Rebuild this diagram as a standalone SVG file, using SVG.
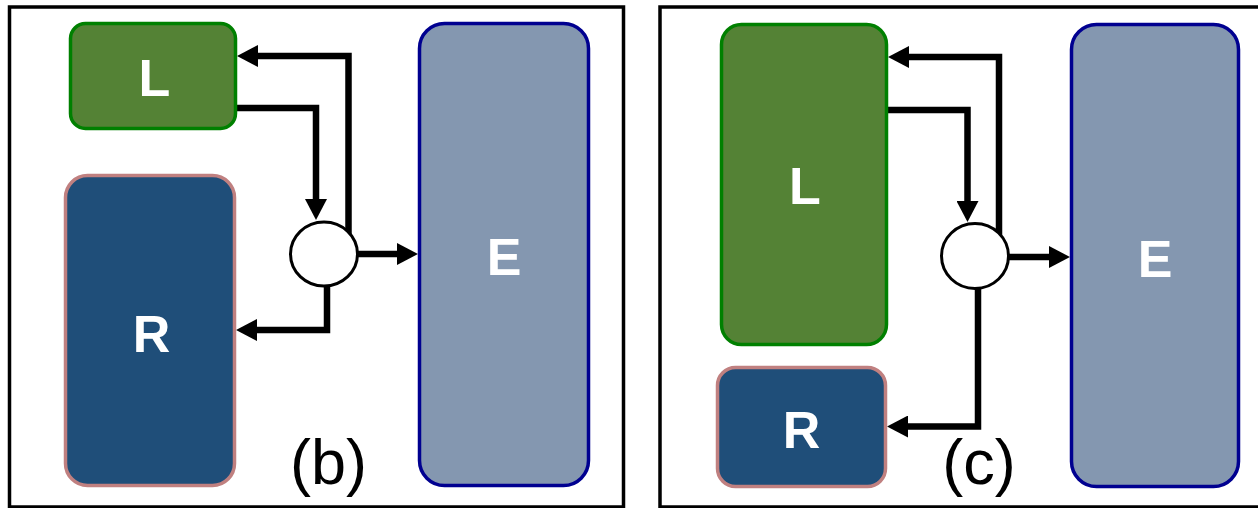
<svg xmlns="http://www.w3.org/2000/svg" width="1258" height="508" viewBox="0 0 1258 508">
<style>
.frame{fill:none;stroke:#000;stroke-width:3.5}
.L{fill:#548235;stroke:#008000;stroke-width:3.5}
.R{fill:#1F4E79;stroke:#C08080;stroke-width:3.5}
.E{fill:#8497B0;stroke:#000090;stroke-width:3.5}
.junc{fill:#fff;stroke:#000;stroke-width:3}
.lbl{font-family:"Liberation Sans",Arial,sans-serif;font-weight:bold;font-size:52px;fill:#fff;text-anchor:middle}
.cap{font-family:"Liberation Sans",Arial,sans-serif;font-size:63px;fill:#000;text-anchor:middle}
.wire{fill:none;stroke:#000;stroke-width:6.5;marker-end:url(#ah)}
</style>
<defs>
<marker id="ah" viewBox="0 0 21 22" refX="2" refY="11" markerWidth="21" markerHeight="22" markerUnits="userSpaceOnUse" orient="auto">
<path d="M0,0 L21,11 L0,22 z" fill="#000"/>
</marker>
</defs>
<rect class="frame" x="9.5" y="7" width="614" height="500"/>
<rect class="frame" x="660" y="7" width="620" height="500"/>
<g id="connectors">
<path class="wire" d="M236,108 H316 V201"/>
<path class="wire" d="M348.5,236 V56 H256"/>
<path class="wire" d="M355,254 H399"/>
<path class="wire" d="M327,282 V330 H255"/>
<path class="wire" d="M887,110 H967.5 V203"/>
<path class="wire" d="M999,238 V57 H907"/>
<path class="wire" d="M1006,257 H1051"/>
<path class="wire" d="M978,285 V426.5 H906"/>
</g>
<g id="b-L"><rect class="L" x="70.5" y="23.5" width="165" height="105" rx="15"/><text class="lbl" x="154.5" y="96">L</text></g>
<g id="b-R"><rect class="R" x="65.5" y="175.5" width="169" height="310" rx="22"/><text class="lbl" x="151.5" y="352">R</text></g>
<g id="b-E"><rect class="E" x="419.5" y="23.5" width="169" height="462" rx="25"/><text class="lbl" x="504" y="275">E</text></g>
<g id="b-J"><ellipse class="junc" cx="324" cy="254" rx="33.5" ry="32"/></g>
<g id="b-cap"><text class="cap" x="328.5" y="484">(b)</text></g>
<g id="c-L"><rect class="L" x="721.5" y="24.5" width="165" height="320" rx="20"/><text class="lbl" x="805" y="204">L</text></g>
<g id="c-R"><rect class="R" x="717.5" y="367.5" width="168" height="119" rx="18"/><text class="lbl" x="801.5" y="448">R</text></g>
<g id="c-E"><rect class="E" x="1071.5" y="24.5" width="167" height="462" rx="25"/><text class="lbl" x="1155" y="277">E</text></g>
<g id="c-J"><ellipse class="junc" cx="975" cy="256" rx="33.5" ry="32.5"/></g>
<g id="c-cap"><text class="cap" x="979" y="484">(c)</text></g>
</svg>
